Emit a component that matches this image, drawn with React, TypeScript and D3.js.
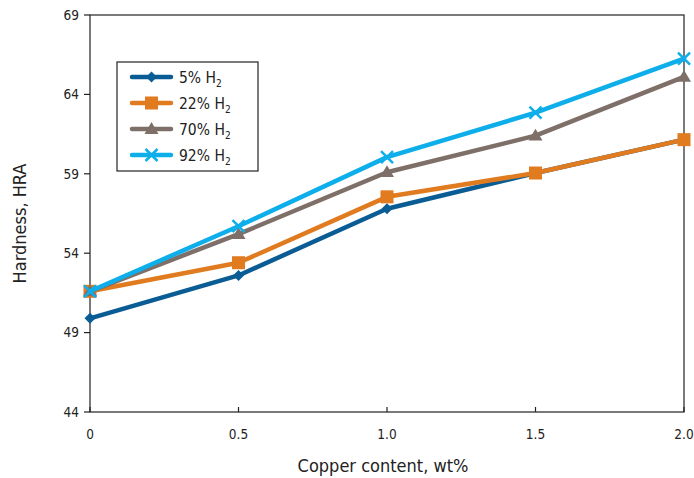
import React from "react";
import * as d3 from "d3";

const copper = [0, 0.5, 1.0, 1.5, 2.0];
const h5 = [49.9, 52.6, 56.8, 59.05, 61.15];
const h22 = [51.6, 53.4, 57.55, 59.05, 61.15];
const h70 = [51.6, 55.2, 59.1, 61.4, 65.1];
const h92 = [51.6, 55.7, 60.05, 62.85, 66.25];
const seriesNames = ["5%", "22%", "70%", "92%"];
const xTicks = [0, 0.5, 1.0, 1.5, 2.0];
const xTickLabels = ["0", "0.5", "1.0", "1.5", "2.0"];
const yTicks = [44, 49, 54, 59, 64, 69];

const colors = ["#0a5c94", "#e07b20", "#7e6f69", "#0eaeea"];
const markers = ["diamond", "square", "triangle", "x"];
const FONT = "'DejaVu Sans Condensed', 'DejaVu Sans', sans-serif";

function Marker({ type, x, y, color }: { type: string; x: number; y: number; color: string }) {
  if (type === "diamond") {
    const s = 5.5;
    return <path d={`M${x},${y - s}L${x + s},${y}L${x},${y + s}L${x - s},${y}Z`} fill={color} />;
  }
  if (type === "square") {
    const s = 6.5;
    return <rect x={x - s} y={y - s} width={2 * s} height={2 * s} fill={color} />;
  }
  if (type === "triangle") {
    const s = 7;
    return <path d={`M${x},${y - s}L${x + s},${y + s * 0.7}L${x - s},${y + s * 0.7}Z`} fill={color} />;
  }
  const s = 6;
  return (
    <path d={`M${x - s},${y - s}L${x + s},${y + s}M${x + s},${y - s}L${x - s},${y + s}`} stroke={color} strokeWidth={2.5} />
  );
}

export default function App() {
  const W = 694, H = 478;
  const x0 = 90, x1 = 684, y0 = 412, y1 = 15;
  const x = d3.scaleLinear().domain([0, 2]).range([x0, x1]);
  const y = d3.scaleLinear().domain([44, 69]).range([y0, y1]);
  const data = [h5, h22, h70, h92];
  const line = d3.line<number>().x((_, i) => x(copper[i])).y((d) => y(d));

  return (
    <svg width={W} height={H} style={{ position: "absolute", left: 0, top: 0, fontStretch: "condensed" }} fontFamily={FONT}>
      <rect width={W} height={H} fill="#fff" />
      <rect x={x0} y={y1} width={x1 - x0} height={y0 - y1} fill="none" stroke="#222" strokeWidth={1.2} />
      {yTicks.map((t) => (
        <g key={t}>
          <line x1={x0 - 6} x2={x0} y1={y(t)} y2={y(t)} stroke="#222" strokeWidth={1.2} />
          <text x={x0 - 11} y={y(t)} dy="0.35em" textAnchor="end" fontSize={13.5} fill="#222">{t}</text>
        </g>
      ))}
      {xTicks.map((t, i) => (
        <g key={t}>
          <line x1={x(t)} x2={x(t)} y1={y0} y2={y0 - 5} stroke="#222" strokeWidth={1.2} />
          <text x={x(t)} y={y0 + 27} textAnchor="middle" fontSize={13.5} fill="#222">{xTickLabels[i]}</text>
        </g>
      ))}
      <text x={(x0 + x1) / 2 - 4} y={472} textAnchor="middle" fontSize={18} fill="#222">Copper content, wt%</text>
      <text transform={`translate(26,${(y0 + y1) / 2 + 10}) rotate(-90)`} textAnchor="middle" fontSize={18} fill="#222">Hardness, HRA</text>

      {data.map((d, si) => (
        <g key={si}>
          <path d={line(d) || ""} fill="none" stroke={colors[si]} strokeWidth={4.5} strokeLinecap="round" strokeLinejoin="round" />
          {d.map((v, i) => (
            <Marker key={i} type={markers[si]} x={x(copper[i])} y={y(v)} color={colors[si]} />
          ))}
        </g>
      ))}

      <rect x={117} y={62} width={141} height={109} fill="#fff" stroke="#222" strokeWidth={1.2} />
      {seriesNames.map((n, i) => {
        const ly = 77 + i * 26;
        return (
          <g key={n}>
            <line x1={132} x2={171} y1={ly} y2={ly} stroke={colors[i]} strokeWidth={4.5} strokeLinecap="round" />
            <Marker type={markers[i]} x={151.5} y={ly} color={colors[i]} />
            <text x={179} y={ly} dy="0.38em" fontSize={15.5} fill="#222">
              {n} H<tspan fontSize={10} dy="4">2</tspan>
            </text>
          </g>
        );
      })}
    </svg>
  );
}
